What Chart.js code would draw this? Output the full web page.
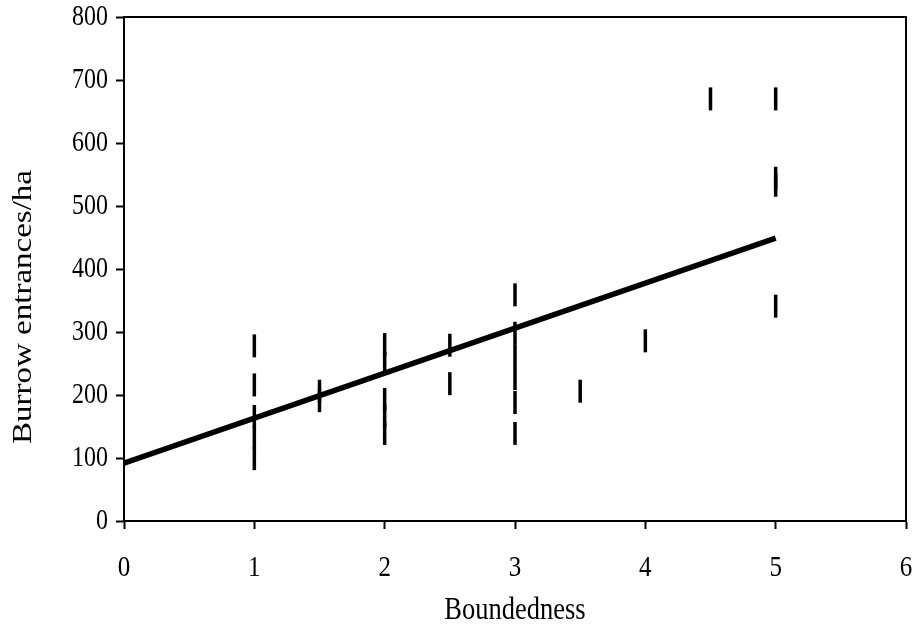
<!DOCTYPE html>
<html>
<head>
<meta charset="utf-8">
<script src="https://cdn.jsdelivr.net/npm/chart.js@4/dist/chart.umd.min.js"></script>
<style>
    html, body { margin: 0; padding: 0; background: #fff; }
    #wrap { width: 921px; height: 638px; }
</style>
</head>
<body>
<div id="wrap"><canvas id="burrowChart"></canvas></div>
<script>
// Survey sites: boundedness score and burrow entrance density
const boundedness = [1, 1, 1, 1, 1, 1.5, 1.5, 2, 2, 2, 2, 2, 2.5, 2.5, 3, 3, 3, 3, 3, 3, 3.5, 4, 4.5, 5, 5, 5, 5];
const burrows = [278, 216, 166, 133, 99, 206, 191, 280, 250, 193, 167, 139, 279, 218, 359, 298, 262, 226, 188, 139, 206, 286, 670, 670, 544, 533, 341];

// Fitted regression line end points
const fitX = [0, 5];
const fitY = [92, 449];

const xTicks = [0, 1, 2, 3, 4, 5, 6];
const yTicks = [0, 100, 200, 300, 400, 500, 600, 700, 800];

const xTitle = 'Boundedness';
const yTitle = 'Burrow entrances/ha';

const serif = "'Liberation Serif', 'Times New Roman', serif";
const TALL = 1.2; // glyphs are drawn a bit taller than wide

// Text drawn with a vertical stretch; rotated text is stretched along its length
function tallText(ctx, text, x, y, size, align, rotated) {
    ctx.save();
    ctx.translate(x, y);
    if (rotated) {
        ctx.rotate(-Math.PI / 2);
        ctx.scale(TALL, 1);
    } else {
        ctx.scale(1, TALL);
    }
    ctx.font = size + 'px ' + serif;
    ctx.fillStyle = '#000';
    ctx.textAlign = align;
    ctx.textBaseline = 'middle';
    ctx.fillText(text, 0, 0);
    ctx.restore();
}

// Frame round the plot area, tick labels and axis titles
const frameAndText = {
    id: 'frameAndText',
    afterDraw(chart) {
        const { ctx, chartArea: a, scales } = chart;
        ctx.save();
        ctx.strokeStyle = '#000';
        ctx.lineWidth = 2;
        ctx.strokeRect(a.left, a.top, a.right - a.left, a.bottom - a.top);
        ctx.restore();

        xTicks.forEach(v => {
            tallText(ctx, String(v), scales.x.getPixelForValue(v), a.bottom + 47, 25, 'center', false);
        });
        yTicks.forEach(v => {
            tallText(ctx, String(v), a.left - 16, scales.y.getPixelForValue(v), 24, 'right', false);
        });
        tallText(ctx, xTitle, (a.left + a.right) / 2, a.bottom + 90, 26.5, 'center', false);
        tallText(ctx, yTitle, 24, (a.top + a.bottom) / 2 + 38, 27.5, 'center', true);
    }
};

const ctx = document.getElementById('burrowChart').getContext('2d');
new Chart(ctx, {
    type: 'scatter',
    data: {
        datasets: [
            {
                label: 'Sites',
                data: boundedness.map((x, i) => ({ x: x, y: burrows[i] })),
                pointStyle: 'line',
                rotation: 90,
                radius: 11.5,
                borderColor: '#000',
                borderWidth: 3.5,
                backgroundColor: '#000'
            },
            {
                label: 'Fit',
                type: 'line',
                data: fitX.map((x, i) => ({ x: x, y: fitY[i] })),
                borderColor: '#000',
                borderWidth: 5.5,
                pointRadius: 0,
                fill: false
            }
        ]
    },
    plugins: [frameAndText],
    options: {
        responsive: true,
        maintainAspectRatio: false,
        animation: false,
        layout: { padding: { top: 17, right: 12, left: 0, bottom: 0 } },
        plugins: {
            legend: { display: false },
            tooltip: { enabled: false }
        },
        scales: {
            x: {
                type: 'linear',
                min: 0,
                max: 6,
                afterBuildTicks: (scale) => { scale.ticks = xTicks.map(v => ({ value: v })); },
                afterFit: (scale) => { scale.height = 117; },
                border: { display: true, color: '#000', width: 2 },
                grid: { display: true, drawOnChartArea: false, tickLength: 8, tickColor: '#000', tickWidth: 2 },
                ticks: { display: false }
            },
            y: {
                type: 'linear',
                min: 0,
                max: 800,
                afterBuildTicks: (scale) => { scale.ticks = yTicks.map(v => ({ value: v })); },
                afterFit: (scale) => { scale.width = 124; },
                border: { display: true, color: '#000', width: 2 },
                grid: { display: true, drawOnChartArea: false, tickLength: 8, tickColor: '#000', tickWidth: 2 },
                ticks: { display: false }
            }
        }
    }
});
</script>
</body>
</html>
